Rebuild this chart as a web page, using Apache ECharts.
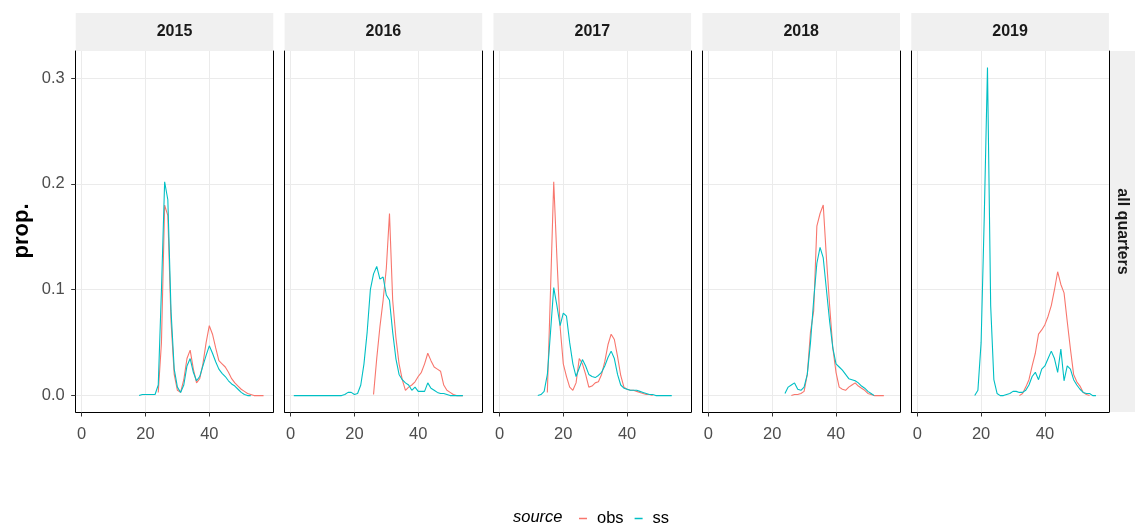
<!DOCTYPE html>
<html><head><meta charset="utf-8">
<script src="https://cdn.jsdelivr.net/npm/echarts@6/dist/echarts.min.js"></script>
<style>html,body{margin:0;padding:0;background:#fff}#c{width:1135px;height:524px}</style>
</head><body><div id="c"></div>
<script>
// ---- data ----
const years = ['2015', '2016', '2017', '2018', '2019'];
const rowLabel = 'all quarters';
const xTicks = [0, 20, 40];
const yTicks = [0, 0.1, 0.2, 0.3];
const seriesNames = ['obs', 'ss'];
// first length value (x) of each year's curve
const obsStart = [24, 26, 15, 26, 32];
const ssStart = [18, 1, 12, 24, 18];

const obs2015 = [0.003,0.05,0.18,0.17,0.07,0.02,0.005,0.003,0.015,0.035,0.043,0.025,0.012,0.016,0.03,0.05,0.066,0.058,0.045,0.033,0.03,0.027,0.022,0.016,0.012,0.009,0.006,0.004,0.002,0.001,0,0,0,0];
const ss2015  = [0,0.001,0.001,0.001,0.001,0.001,0.01,0.1,0.202,0.185,0.08,0.025,0.008,0.003,0.01,0.028,0.035,0.022,0.014,0.018,0.028,0.038,0.047,0.04,0.032,0.025,0.021,0.018,0.014,0.011,0.009,0.006,0.003,0.001,0,0];

const obs2016 = [0.001,0.035,0.065,0.09,0.12,0.172,0.09,0.055,0.03,0.015,0.005,0.008,0.01,0.013,0.018,0.022,0.03,0.04,0.033,0.027,0.025,0.023,0.01,0.005,0.003,0.001,0,0,0];
const ss2016  = [0,0,0,0,0,0,0,0,0,0,0,0,0,0,0,0,0.001,0.003,0.003,0.001,0.002,0.01,0.03,0.06,0.1,0.115,0.122,0.11,0.112,0.095,0.09,0.06,0.035,0.02,0.015,0.012,0.01,0.005,0.008,0.004,0.004,0.004,0.012,0.007,0.005,0.003,0.002,0.002,0.001,0,0,0,0,0];

const obs2017 = [0.003,0.1,0.202,0.13,0.065,0.03,0.018,0.008,0.005,0.012,0.035,0.03,0.02,0.008,0.009,0.012,0.013,0.02,0.032,0.048,0.058,0.053,0.037,0.019,0.008,0.006,0.005,0.005,0.004,0.003,0.002,0.001,0.001,0];
const ss2017  = [0,0.001,0.004,0.02,0.06,0.102,0.085,0.066,0.078,0.075,0.05,0.03,0.018,0.026,0.034,0.028,0.02,0.018,0.017,0.019,0.022,0.028,0.036,0.042,0.035,0.02,0.01,0.007,0.006,0.005,0.005,0.005,0.004,0.003,0.002,0.001,0.001,0,0,0,0,0,0];

const obs2018 = [0,0.001,0.001,0.002,0.004,0.02,0.06,0.08,0.16,0.172,0.18,0.13,0.085,0.045,0.022,0.008,0.006,0.005,0.008,0.01,0.012,0.009,0.007,0.005,0.002,0.001,0,0,0,0];
const ss2018  = [0.002,0.008,0.01,0.012,0.006,0.005,0.008,0.02,0.05,0.09,0.125,0.14,0.13,0.1,0.07,0.045,0.03,0.027,0.024,0.02,0.016,0.015,0.014,0.012,0.009,0.007,0.004,0.002,0];

const obs2019 = [0,0.002,0.008,0.015,0.028,0.04,0.058,0.062,0.067,0.075,0.085,0.1,0.117,0.105,0.097,0.07,0.044,0.02,0.013,0.009,0.003,0.001,0];
const ss2019  = [0,0.005,0.05,0.17,0.31,0.085,0.015,0.002,0,0,0.001,0.002,0.004,0.004,0.003,0.003,0.005,0.01,0.018,0.022,0.015,0.025,0.028,0.035,0.042,0.035,0.022,0.044,0.014,0.028,0.025,0.015,0.01,0.006,0.003,0.002,0.002,0,0];

const obsValues = [obs2015, obs2016, obs2017, obs2018, obs2019];
const ssValues = [ss2015, ss2016, ss2017, ss2018, ss2019];

// ---- chart ----
const FONT = '"Liberation Sans", Arial, sans-serif';
const COL_OBS = '#F8766D', COL_SS = '#00BFC4';
const L0 = 75.7, STEP = 208.9, W = 197.6, TOP = 51, H = 361;
const XMIN = -1.88, XMAX = 60.06, YMIN = -0.0155, YMAX = 0.3255;

const grid = [], xAxis = [], yAxis = [], series = [], graphic = [];
years.forEach((yr, i) => {
  const left = L0 + i * STEP;
  grid.push({left: left, top: TOP, width: W, height: H, containLabel: false});
  xAxis.push({
    type: 'value', gridIndex: i, min: XMIN, max: XMAX,
    axisLine: {show: true, onZero: false, lineStyle: {color: '#000', width: 1}},
    axisTick: {show: true, customValues: xTicks, length: 4.5, lineStyle: {color: '#333'}},
    axisLabel: {show: true, customValues: xTicks, color: '#4d4d4d', fontSize: 16.5, fontFamily: FONT, margin: 14},
    splitLine: {show: true, lineStyle: {color: '#ebebeb', width: 1}}
  });
  yAxis.push({
    type: 'value', gridIndex: i, min: YMIN, max: YMAX,
    axisLine: {show: true, onZero: false, lineStyle: {color: '#000', width: 1}},
    axisTick: {show: i === 0, customValues: yTicks, length: 4.5, lineStyle: {color: '#333'}},
    axisLabel: {show: i === 0, customValues: yTicks, color: '#4d4d4d', fontSize: 16.5, fontFamily: FONT, margin: 11,
      formatter: v => v.toFixed(1)},
    splitLine: {show: true, lineStyle: {color: '#ebebeb', width: 1}}
  });
  yAxis.push({
    type: 'value', gridIndex: i, min: YMIN, max: YMAX, position: 'right',
    axisLine: {show: true, onZero: false, lineStyle: {color: '#000', width: 1}},
    axisTick: {show: false}, axisLabel: {show: false}, splitLine: {show: false}
  });
  series.push({
    name: 'obs', type: 'line', xAxisIndex: i, yAxisIndex: 2 * i, showSymbol: false, symbol: 'none',
    lineStyle: {color: COL_OBS, width: 1.1}, itemStyle: {color: COL_OBS}, silent: true, animation: false,
    data: obsValues[i].map((v, k) => [obsStart[i] + k, v])
  });
  series.push({
    name: 'ss', type: 'line', xAxisIndex: i, yAxisIndex: 2 * i, showSymbol: false, symbol: 'none',
    lineStyle: {color: COL_SS, width: 1.1}, itemStyle: {color: COL_SS}, silent: true, animation: false,
    data: ssValues[i].map((v, k) => [ssStart[i] + k, v])
  });
  // strip
  graphic.push({type: 'rect', left: left, top: 13, shape: {width: W, height: 38}, style: {fill: '#f0f0f0'}, silent: true});
  graphic.push({type: 'text', x: left + W / 2, y: 32, style: {text: yr, fill: '#1a1a1a', font: 'bold 16px ' + FONT,
    align: 'center', verticalAlign: 'middle'}, silent: true});
});
// right strip
graphic.push({type: 'rect', left: 1109.5, top: TOP, shape: {width: 26, height: H}, style: {fill: '#f0f0f0'}, silent: true});
graphic.push({type: 'text', x: 1122, y: TOP + H / 2, rotation: -Math.PI / 2,
  style: {text: rowLabel, fill: '#1a1a1a', font: 'bold 16px ' + FONT, align: 'center', verticalAlign: 'middle'}, silent: true});
// y title
graphic.push({type: 'text', x: 22, y: 231, rotation: Math.PI / 2,
  style: {text: 'prop.', fill: '#000', font: 'bold 22px ' + FONT, align: 'center', verticalAlign: 'middle'}, silent: true});
// legend title
graphic.push({type: 'text', x: 513, y: 517,
  style: {text: 'source', fill: '#000', font: 'italic 16.5px ' + FONT, align: 'left', verticalAlign: 'middle'}, silent: true});

const option = {
  animation: false,
  backgroundColor: '#fff',
  grid, xAxis, yAxis, series, graphic,
  legend: {
    data: seriesNames, left: 574, top: 505, orient: 'horizontal',
    icon: 'rect', itemWidth: 8, itemHeight: 1.5, itemGap: 11, selectedMode: false,
    textStyle: {color: '#000', fontSize: 16.5, fontFamily: FONT, padding: [0, 0, 0, 5]}
  }
};
const chart = echarts.init(document.getElementById('c'));
chart.setOption(option);
</script></body></html>
